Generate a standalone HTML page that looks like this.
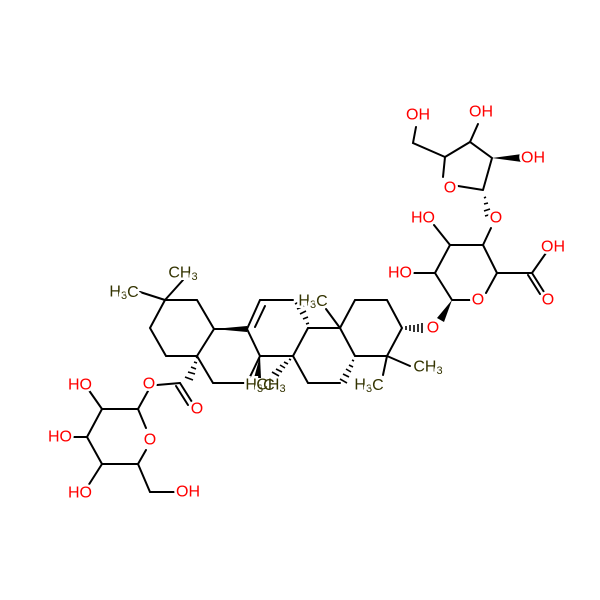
<!DOCTYPE html>
<html><head><style>
html,body{margin:0;padding:0;background:#fff}
svg{display:block}
text{font-family:"Liberation Sans",sans-serif;font-size:16px;dominant-baseline:central;text-anchor:middle;paint-order:stroke;stroke:#fff;stroke-width:5px}
.o{fill:#f00}
.c{fill:#333300}
</style></head><body>
<svg width="600" height="600" viewBox="0 0 600 600" xmlns="http://www.w3.org/2000/svg">
<rect width="600" height="600" fill="#fff"/>
<g stroke="#000" stroke-width="2" fill="none" stroke-linecap="round">
<path d="M165,300 L197,300 L214,329 L197,356 L166,356 L150,328 Z"/>
<path d="M165,300 L183,280 M165,300 L140,292"/>
<path d="M197,356 L213,383 L247,383 L260,356 M214,329 L247,329"/>
<path d="M247,329 L260,300 L293,300 M247,329 L260,356 L293,356 L308,328"/>
<path d="M255,327 L265,306" />
<path d="M308,328 L340,328 L355,356 M340,383 L308,383 L293,356"/>
<path d="M340,328 L326,309"/>
<path d="M340,328 L355,300 L387,300 L402,328 L387,356 L355,356"/>
<path d="M387,356 L410,366 M387,356 L383,375"/>
<path d="M180,383 L157,385"/>
<path d="M180,383 L192,402 M176,386 L188,405"/>
<path d="M138,409 L148,391 M138,409 L102,409 L87,437 L102,464 L138,464 L146,450 M138,409 L146,428"/>
<path d="M102,409 L88,389 M87,437 L74,437 M102,464 L88,486 M138,464 L150,492 L175,492"/>
<path d="M452,300 L470,300 M486,293 L497,273 L483,245 L450,245 L435,273 L452,300"/>
<path d="M497,273 L532,273 L546,253 M532,273 L544,292 M528,275 L540,294"/>
<path d="M483,245 L491,228 M450,245 L434,225 M435,273 L414,273"/>
<path d="M483,190 L458,186 M443,177 L445,157 L470,142 L492,158 L483,190"/>
<path d="M445,157 L413,143 L416,127 M470,142 L478,124"/>
</g>
<g fill="#000">
<polygon points="214,329 247,326 247,332"/>
<polygon points="260,356 254,378 261,378"/>
<polygon points="452,300 437,318 444,322"/>
<polygon points="492,158 522,154 522,162"/>
</g>
<g stroke="#000" stroke-width="1.6">
<path d="M194,362 l3,1 M191,367 l5,2 M188,372 l7,2 M185,377 l8,3 M196,357 l2,1"/>
<path d="M306,324 l3,-1 M303,319 l5,-2 M300,314 l6,-3 M297,309 l7,-3 M295,304 l8,-4"/>
<path d="M291,360 l-2,-1 M288,364 l-4,-2 M285,368 l-5,-3 M282,372 l-6,-3 M279,376 l-7,-4"/>
<path d="M352,360 l2,1 M349,365 l4,2 M346,369 l5,3 M343,374 l6,3 M340,379 l7,4"/>
<path d="M406,326 l0,4 M410,325 l0,6 M414,325 l0,7 M418,324 l0,8 M422,323 l0,10"/>
<path d="M486,197 l-2,1 M488,203 l-4,1 M490,209 l-6,2 M492,214 l-7,2"/>
</g>
<g>
<text x="183" y="273" class="c">CH<tspan font-size="11" dy="4">3</tspan></text>
<text x="124" y="292" class="c">H<tspan font-size="11" dy="4">3</tspan><tspan dy="-4">C</tspan></text>
<text x="313" y="301" class="c">H<tspan font-size="11" dy="4">3</tspan><tspan dy="-4">C</tspan></text>
<text x="260" y="385" class="c">H<tspan font-size="11" dy="4">3</tspan><tspan dy="-4">C</tspan></text>
<text x="271" y="385" class="c" style="stroke:none">CH<tspan font-size="11" dy="4">3</tspan></text>
<text x="428" y="367" class="c">CH<tspan font-size="11" dy="4">3</tspan></text>
<text x="369" y="385" class="c">H<tspan font-size="11" dy="4">3</tspan><tspan dy="-4">C</tspan></text>
<text x="433" y="328" class="o">O</text>
<text x="149" y="384" class="o">O</text>
<text x="197" y="409" class="o">O</text>
<text x="150" y="440" class="o">O</text>
<text x="80" y="385" class="o">HO</text>
<text x="60" y="437" class="o">HO</text>
<text x="80" y="493" class="o">HO</text>
<text x="188" y="492" class="o">OH</text>
<text x="478" y="300" class="o">O</text>
<text x="553" y="247" class="o">OH</text>
<text x="548" y="300" class="o">O</text>
<text x="496" y="218" class="o">O</text>
<text x="423" y="218" class="o">HO</text>
<text x="400" y="273" class="o">HO</text>
<text x="450" y="188" class="o">O</text>
<text x="418" y="115" class="o">OH</text>
<text x="481" y="112" class="o">OH</text>
<text x="533" y="158" class="o">OH</text>
</g>
</svg>
</body></html>
